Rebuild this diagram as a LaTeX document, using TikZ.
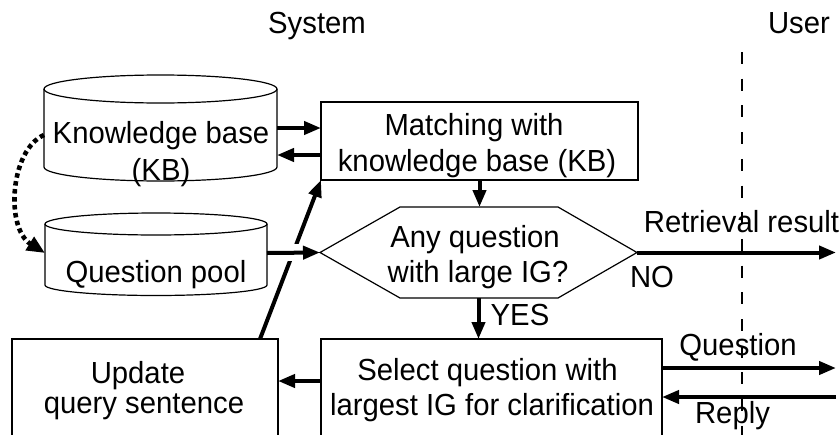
\documentclass[tikz,border=0pt]{standalone}
\usepackage{fontspec}
\setmainfont{Liberation Sans}[FakeStretch=0.96]
\usetikzlibrary{arrows.meta,calc}
\begin{document}
\begin{tikzpicture}[x=1pt,y=-1pt,
  every node/.style={font=\fontsize{30.5}{36}\selectfont, inner sep=0pt, outer sep=0pt},
  txt/.style={anchor=base},
  box/.style={draw, line width=1.2pt},
  ghost/.style={inner sep=0pt, outer sep=0pt},
  flow/.style={line width=4pt, -{Triangle[length=17pt,width=13pt]}},
  dotflow/.style={line width=4.6pt, dash pattern=on 4.5pt off 3.5pt, -{Triangle[length=18pt,width=15pt]}},
  userline/.style={line width=1.3pt, dash pattern=on 12pt off 14.7pt}
]
\useasboundingbox (0,0) rectangle (840,434);
\clip (0,0) rectangle (840,434);

% user separator
\coordinate (dtop) at (742,52);
\coordinate (dbot) at (742,445);
\draw[userline] (dtop) -- (dbot);

% headers
\node[txt] (system) at (317,33) {System};
\node[txt] (user) at (799,33) {User};

% knowledge base cylinder
\node[ghost, minimum width=233pt, minimum height=78pt] (kb) at (160.5,128) {};
\draw[box] (44,89) -- (44,167) arc[start angle=180, end angle=360, x radius=116.5pt, y radius=14pt] -- (277,89);
\draw[box] (160.5,89) ellipse [x radius=116.5pt, y radius=14pt];
\node[txt] (kbt1) at (161,143) {Knowledge base};
\node[txt] (kbt2) at (161,180) {(KB)};

% question pool cylinder
\node[ghost, minimum width=222pt, minimum height=58pt] (qp) at (156,253) {};
\draw[box] (45,224) -- (45,285) arc[start angle=180, end angle=360, x radius=111pt, y radius=10.5pt] -- (267,224);
\draw[box] (156,224) ellipse [x radius=111pt, y radius=11pt];
\node[txt] (qpt) at (156,282) {Question pool};

% matching box
\node[box, minimum width=317pt, minimum height=78pt] (match) at (479.5,141) {};
\node[txt] (mt1) at (474,135) {Matching with};
\node[txt] (mt2) at (477,171) {knowledge base (KB)};

% decision hexagon
\node[ghost, minimum width=317pt, minimum height=91pt] (hex) at (478.5,252.5) {};
\draw[box] (320,252.5) -- (400,207) -- (558,207) -- (637,252.5) -- (558,298) -- (400,298) -- cycle;
\node[txt] (ht1) at (475,247) {Any question};
\node[txt] (ht2) at (478,282) {with large IG?};

% select box
\node[box, minimum width=341pt, minimum height=121pt] (sel) at (491.5,399.5) {};
\node[txt] (st1) at (487.5,380) {Select question with};
\node[txt] (st2) at (492,415) {largest IG for clarification};

% update box
\node[box, minimum width=266pt, minimum height=121pt] (upd) at (145,399.5) {};
\node[txt] (ut1) at (138,383) {Update};
\node[txt] (ut2) at (144,413) {query sentence};

% KB <-> matching
\coordinate (k1) at (kb.east);
\coordinate (k2) at ($(kb.east)+(0,27)$);
\draw[flow] (k1) -- (k1 -| match.west);
\draw[flow] (k2 -| match.west) -- (k2);

% dotted KB -> question pool
\coordinate (d1) at ($(kb.west)+(0,7)$);
\draw[dotflow] (d1) .. controls (10,150) and (5,228) .. (qp.west);

% matching -> decision
\draw[flow] (match.south) -- (match.south |- hex.north);

% decision -> select (YES)
\draw[flow] (hex.south) -- (hex.south |- sel.north);
\node[txt] (yes) at (520,325) {YES};

% decision -> retrieval (NO)
\coordinate (rend) at (836,252.5);
\draw[flow] (hex.east) -- (rend);
\node[txt] (ret) at (741.5,232) {Retrieval result};
\node[txt] (no) at (652,287) {NO};

% select -> update
\coordinate (s1) at ($(sel.north west)+(0,42)$);
\draw[flow] (s1) -- (s1 -| upd.east);

% update -> matching (diagonal), with gap at crossing
\coordinate (u1) at ($(upd.north east)+(-18,0)$);
\draw[flow] (u1) -- (match.south west);
\fill[white] (284,244) rectangle (303,261);

% question pool -> decision
\draw[flow] (qp.east) -- (hex.west);

% question / reply with user
\coordinate (q1) at ($(sel.north east)+(0,29)$);
\coordinate (q2) at (836,368);
\draw[flow] (q1) -- (q2);
\node[txt] (qt) at (738,355) {Question};
\coordinate (r1) at (836,397);
\coordinate (r2) at ($(sel.north east)+(0,58)$);
\draw[flow] (r1) -- (r2);
\node[txt] (rt) at (732.5,423) {Reply};
\end{tikzpicture}
\end{document}
